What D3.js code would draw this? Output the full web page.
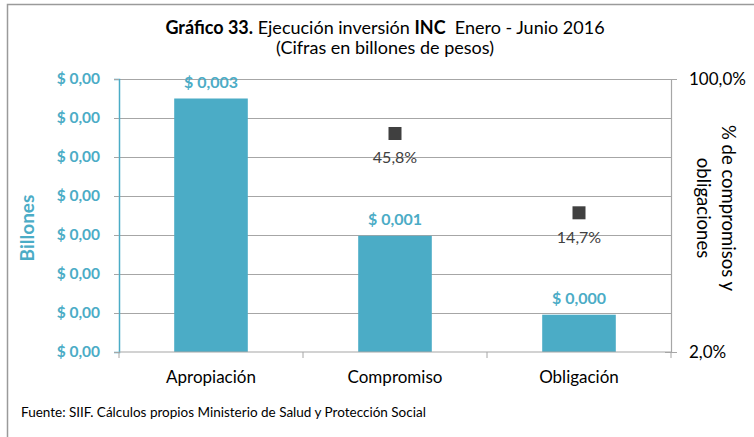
<!DOCTYPE html>
<html>
<head>
<meta charset="utf-8">
<script src="https://cdn.jsdelivr.net/npm/d3@7"></script>
<style>
  body { margin: 0; background: #fff; }
  svg { display: block; font-family: Lato, "Noto Sans", sans-serif; }
</style>
</head>
<body>
<div id="wrapper"></div>
<script>
// data
const categories = ["Apropiación", "Compromiso", "Obligación"];
const values = [0.00325, 0.00149, 0.000478];           // billones de pesos
const valueLabels = ["$ 0,003", "$ 0,001", "$ 0,000"];
const pctCategories = ["Compromiso", "Obligación"];
const pctValues = [45.8, 14.7];
const pctLabels = ["45,8%", "14,7%"];
const leftTicks = [0, 0.0005, 0.001, 0.0015, 0.002, 0.0025, 0.003, 0.0035];
const rightTicks = [2, 100];
const rightTickLabels = ["2,0%", "100,0%"];

const teal = "#4BACC6";
const gridColor = "#A6A6A6";
const dark = "#404040";

const dimensions = {
  width: 754,
  height: 437,
  margin: { top: 79, right: 83, bottom: 85, left: 119 },
};
dimensions.boundedWidth = dimensions.width - dimensions.margin.left - dimensions.margin.right;
dimensions.boundedHeight = dimensions.height - dimensions.margin.top - dimensions.margin.bottom;

const wrapper = d3.select("#wrapper")
  .append("svg")
  .attr("width", dimensions.width)
  .attr("height", dimensions.height);

// outer frame
wrapper.append("rect")
  .attr("x", 7.5)
  .attr("y", 4.5)
  .attr("width", 760)
  .attr("height", 450)
  .attr("fill", "none")
  .attr("stroke", "#9A9A9A")
  .attr("stroke-width", 1.5);

// title
const title = wrapper.append("text")
  .attr("x", 385)
  .attr("y", 34)
  .attr("text-anchor", "middle")
  .attr("font-size", "18px")
  .attr("fill", "#000");
title.append("tspan").attr("font-weight", "bold").text("Gráfico 33.");
title.append("tspan").text(" Ejecución inversión ");
title.append("tspan").attr("font-weight", "bold").text("INC");
title.append("tspan").text("  Enero - Junio 2016").attr("xml:space", "preserve");

wrapper.append("text")
  .attr("x", 385)
  .attr("y", 54)
  .attr("text-anchor", "middle")
  .attr("font-size", "18px")
  .text("(Cifras en billones de pesos)");

const bounds = wrapper.append("g")
  .attr("transform", `translate(${dimensions.margin.left},${dimensions.margin.top})`);

const xScaler = d3.scaleBand()
  .domain(categories)
  .range([0, dimensions.boundedWidth])
  .paddingInner(0.6)
  .paddingOuter(0.3);

const yScaler = d3.scaleLinear()
  .domain([0, 0.0035])
  .range([dimensions.boundedHeight, 0]);

const pctScaler = d3.scaleLog()
  .domain([2, 100])
  .range([dimensions.boundedHeight, 0]);

// gridlines
bounds.append("g")
  .selectAll("line")
  .data(leftTicks.slice(1))
  .enter()
  .append("line")
  .attr("x1", 0)
  .attr("x2", dimensions.boundedWidth)
  .attr("y1", d => Math.round(yScaler(d)) + 0.5)
  .attr("y2", d => Math.round(yScaler(d)) + 0.5)
  .attr("stroke", gridColor)
  .attr("stroke-width", 1.2);

// bars
bounds.append("g")
  .selectAll("rect")
  .data(values)
  .enter()
  .append("rect")
  .attr("x", (d, i) => xScaler(categories[i]))
  .attr("y", d => yScaler(d))
  .attr("width", xScaler.bandwidth())
  .attr("height", d => dimensions.boundedHeight - yScaler(d))
  .attr("fill", teal);

bounds.append("g")
  .selectAll("text")
  .data(values)
  .enter()
  .append("text")
  .attr("x", (d, i) => xScaler(categories[i]) + xScaler.bandwidth() / 2)
  .attr("y", d => yScaler(d) - 11)
  .attr("text-anchor", "middle")
  .attr("font-size", "16px")
  .attr("font-weight", "bold")
  .attr("fill", teal)
  .text((d, i) => valueLabels[i]);

// percentage markers
const markerSize = 13;
const pctGroup = bounds.append("g");
pctGroup.selectAll("rect")
  .data(pctValues)
  .enter()
  .append("rect")
  .attr("x", (d, i) => xScaler(pctCategories[i]) + xScaler.bandwidth() / 2 - markerSize / 2)
  .attr("y", d => pctScaler(d) - markerSize / 2)
  .attr("width", markerSize)
  .attr("height", markerSize)
  .attr("fill", dark);

pctGroup.selectAll("text")
  .data(pctValues)
  .enter()
  .append("text")
  .attr("x", (d, i) => xScaler(pctCategories[i]) + xScaler.bandwidth() / 2)
  .attr("y", d => pctScaler(d) + 30)
  .attr("text-anchor", "middle")
  .attr("font-size", "16px")
  .attr("fill", dark)
  .text((d, i) => pctLabels[i]);

// left axis
const yAxisGen = d3.axisLeft(yScaler)
  .tickValues(leftTicks)
  .tickSize(5)
  .tickPadding(14)
  .tickFormat(() => "$ 0,00");
const yAxis = bounds.append("g").call(yAxisGen);
yAxis.select(".domain").attr("stroke", teal).attr("stroke-width", 1.5);
yAxis.selectAll(".tick line").attr("stroke", gridColor);
yAxis.selectAll(".tick text")
  .attr("font-family", "Lato, sans-serif")
  .attr("font-size", "15.5px")
  .attr("font-weight", "bold")
  .attr("fill", teal);

// right axis
const rAxisGen = d3.axisRight(pctScaler)
  .tickValues(rightTicks)
  .tickSize(6)
  .tickPadding(12)
  .tickFormat((d, i) => rightTickLabels[i]);
const rAxis = bounds.append("g")
  .attr("transform", `translate(${dimensions.boundedWidth},0)`)
  .call(rAxisGen);
rAxis.select(".domain").attr("stroke", gridColor).attr("stroke-width", 1.2);
rAxis.selectAll(".tick line").attr("stroke", gridColor).attr("x1", -6);
rAxis.selectAll(".tick text")
  .attr("font-family", "Lato, sans-serif")
  .attr("font-size", "17px")
  .attr("fill", "#000");

// bottom axis, ticks on category boundaries
const boundaries = d3.range(categories.length + 1).map(i => i * dimensions.boundedWidth / categories.length);
const xAxis = bounds.append("g")
  .attr("transform", `translate(0,${dimensions.boundedHeight})`);
xAxis.append("line")
  .attr("x1", 0)
  .attr("x2", dimensions.boundedWidth)
  .attr("stroke", gridColor)
  .attr("stroke-width", 1.2);
xAxis.selectAll(".btick")
  .data(boundaries)
  .enter()
  .append("line")
  .attr("x1", d => d)
  .attr("x2", d => d)
  .attr("y1", 0)
  .attr("y2", 6)
  .attr("stroke", gridColor);
xAxis.selectAll(".clabel")
  .data(categories)
  .enter()
  .append("text")
  .attr("x", d => xScaler(d) + xScaler.bandwidth() / 2)
  .attr("y", 31)
  .attr("text-anchor", "middle")
  .attr("font-size", "17px")
  .attr("fill", "#000")
  .text(d => d);

// axis titles
wrapper.append("text")
  .attr("transform", "translate(34,228) rotate(-90)")
  .attr("text-anchor", "middle")
  .attr("font-size", "19px")
  .attr("font-weight", "bold")
  .attr("fill", teal)
  .text("Billones");

const rTitle = wrapper.append("text")
  .attr("transform", "translate(722,208) rotate(90)")
  .attr("text-anchor", "middle")
  .attr("font-size", "18.5px")
  .attr("fill", "#000");
rTitle.append("tspan").attr("x", 0).attr("dy", 0).text("% de compromisos y");
rTitle.append("tspan").attr("x", 0).attr("dy", 25).text("obligaciones");

// source
wrapper.append("text")
  .attr("x", 21)
  .attr("y", 417)
  .attr("font-size", "13.5px")
  .attr("fill", "#000")
  .text("Fuente: SIIF. Cálculos propios Ministerio de Salud y Protección Social");
</script>
</body>
</html>
